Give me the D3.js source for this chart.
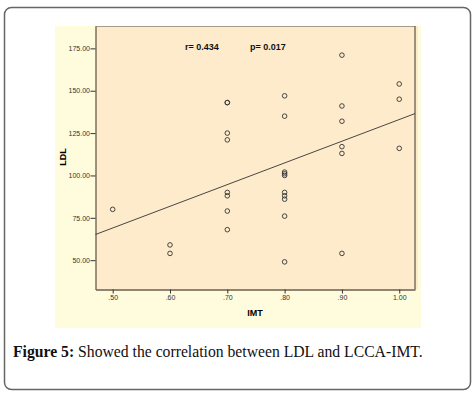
<!DOCTYPE html>
<html><head><meta charset="utf-8">
<script src="https://cdn.jsdelivr.net/npm/d3@7"></script>
<style>body{margin:0;background:#fff;}svg{display:block;}</style>
</head><body>
<script>
const imt = [0.90,1.00,1.00,0.70,0.70,0.80,0.90,0.80,0.90,0.70,0.70,0.90,0.90,1.00,0.80,0.80,0.80,0.80,0.80,0.80,0.70,0.70,0.50,0.70,0.80,0.70,0.60,0.60,0.90,0.80];
const ldl = [171,154,145,143,143,147,141,135,132,125,121,117,113,116,102,101,100,90,88,86,90,88,80,79,76,68,59,54,54,49];
const xTicks = [0.5,0.6,0.7,0.8,0.9,1.0];
const yTicks = [50,75,100,125,150,175];
const fitIntercept = 5.0, fitSlope = 128;
const statsText = ["r= 0.434","p= 0.017"];

const W=474,H=396;
const svg=d3.select("body").append("svg").attr("width",W).attr("height",H);
svg.append("rect").attr("x",4.5).attr("y",7.5).attr("width",466).attr("height",382).attr("rx",7)
  .attr("fill","#fff").attr("stroke","#666").attr("stroke-width",1.5);
svg.append("rect").attr("x",55).attr("y",26).attr("width",366).attr("height",302).attr("fill","#FFFBDD");
const L=95.5,R=415,T=26,B=289.5;
svg.append("rect").attr("x",L).attr("y",T).attr("width",418-L).attr("height",B-T).attr("fill","#FDEBCB");
const x=d3.scaleLinear().domain([0.47,1.0275]).range([L,R]);
const y=d3.scaleLinear().domain([32.7,188.2]).range([B,T]);
svg.append("line").attr("x1",L).attr("x2",R).attr("y1",T+0.5).attr("y2",T+0.5).attr("stroke","#a89a88").attr("stroke-width",1);
svg.append("line").attr("x1",R).attr("x2",R).attr("y1",T).attr("y2",B).attr("stroke","#6b5e50").attr("stroke-width",1.3);
const ya=d3.axisLeft(y).tickValues(yTicks).tickFormat(d3.format(".2f")).tickSize(5).tickSizeOuter(0);
const gy=svg.append("g").attr("transform",`translate(${L},0)`).call(ya);
const xa=d3.axisBottom(x).tickValues(xTicks).tickFormat(d=>d3.format(".2f")(d).replace(/^0/,"")).tickSize(4).tickSizeOuter(0);
const gx=svg.append("g").attr("transform",`translate(0,${B})`).call(xa);
[gx,gy].forEach(g=>{
  g.select(".domain").attr("stroke","#6b5e50").attr("stroke-width",1.3);
  g.selectAll(".tick line").attr("stroke","#333");
  g.selectAll(".tick text").attr("font-family","Liberation Sans, Arial, sans-serif").attr("font-size",7).attr("fill","#333");
});
gy.selectAll(".tick text").attr("x",-5.5);
gx.selectAll(".tick text").attr("y",6);
svg.append("path").datum(x.domain())
  .attr("d",d3.line().x(d=>x(d)).y(d=>y(fitIntercept+fitSlope*d)))
  .attr("stroke","#333").attr("stroke-width",0.9).attr("fill","none");
svg.append("g").selectAll("circle").data(imt.map((d,i)=>[d,ldl[i]])).join("circle")
  .attr("cx",d=>x(d[0])).attr("cy",d=>y(d[1])).attr("r",2.3)
  .attr("fill","none").attr("stroke","#333").attr("stroke-width",0.9);
svg.append("g").selectAll("text").data(statsText).join("text")
  .attr("x",(d,i)=>[185,250][i]).attr("y",50)
  .attr("font-family","Liberation Sans, Arial, sans-serif").attr("font-weight","bold").attr("font-size",9)
  .attr("fill","#111").text(d=>d);
svg.append("text").attr("transform","translate(66,157) rotate(-90)").attr("text-anchor","middle")
  .attr("font-family","Liberation Sans, Arial, sans-serif").attr("font-weight","bold").attr("font-size",9).text("LDL");
svg.append("text").attr("x",255).attr("y",316).attr("text-anchor","middle")
  .attr("font-family","Liberation Sans, Arial, sans-serif").attr("font-weight","bold").attr("font-size",9).text("IMT");
const cap=svg.append("text").attr("x",13).attr("y",357).attr("font-family","Liberation Serif, serif").attr("font-size",15.7).attr("fill","#111");
cap.append("tspan").attr("font-weight","bold").text("Figure 5:");
cap.append("tspan").text(" Showed the correlation between LDL and LCCA-IMT.");
</script>
</body></html>
